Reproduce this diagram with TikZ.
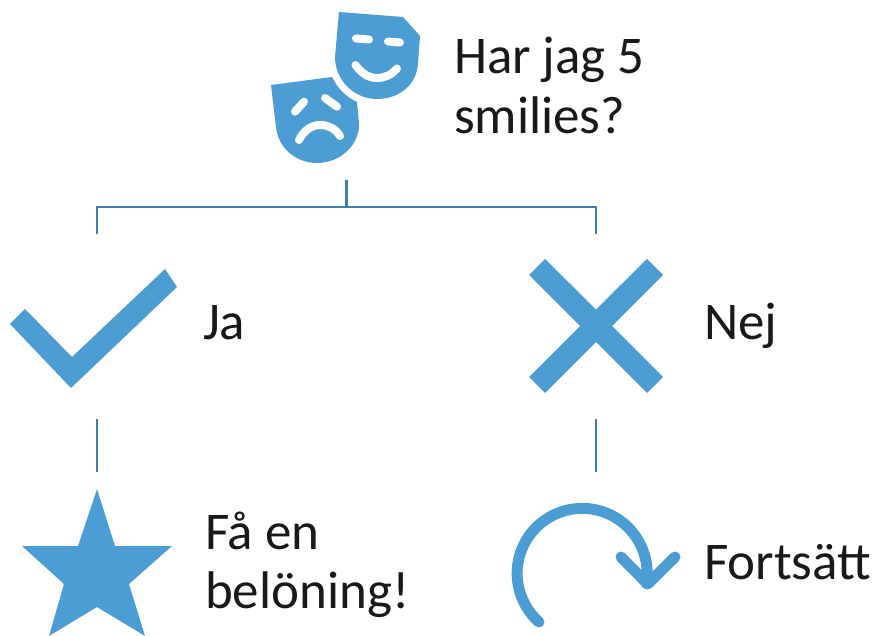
\documentclass[tikz,border=0pt]{standalone}
\usepackage{fontspec}
\setmainfont{Carlito}
\definecolor{iconblue}{HTML}{4D9DD5}
\definecolor{linkblue}{HTML}{3F7FAE}
\tikzset{
  x=1pt,y=-1pt,
  icon/.style={fill=iconblue,draw=none},
  stroke/.style={draw=iconblue,line width=11pt,line cap=round,line join=round},
  facemark/.style={draw=white,line width=8pt,line cap=round},
  link/.style={draw=linkblue,line width=2.8pt},
  label/.style={anchor=base west,inner sep=0pt,outer sep=0pt,text=black!90,font=\fontsize{53}{60}\selectfont},
}
\begin{document}
\begin{tikzpicture}
\useasboundingbox (0,0) rectangle (873,636);
% masks
\fill[icon] (339,12) -- (403,17) -- (420,36) -- (418,63) .. controls (417,84) and (400,99) .. (377,99) .. controls (354,99) and (335,80) .. (335,57) -- cycle;
\draw[facemark] (356,38.5) -- (369,39.5);
\draw[facemark] (388,41.5) -- (400,42.5);
\draw[facemark] (355.5,65) .. controls (362,74) and (369,78) .. (377,78) .. controls (385,78) and (391,75) .. (397,68.5);
\fill[icon] (271,85) -- (332,77) .. controls (338,89) and (346,97) .. (357,102) -- (359,123) .. controls (360,145) and (340,163) .. (317,163) .. controls (296,163) and (278,148) .. (276,127) -- cycle;
\draw[facemark] (295,111.7) -- (304,101.7);
\draw[facemark] (325,98) -- (337,106.7);
\draw[facemark] (299,140) .. controls (304,130) and (312,125) .. (320,125) .. controls (328,125) and (335,128) .. (340,136);
% check
\fill[icon] (10,324) -- (25,309) -- (72,357) -- (165,269) -- (177,287) -- (71,388) -- cycle;
% cross
\fill[icon] (529,275) -- (545,259) -- (596,309.5) -- (647,259) -- (663,275) -- (612,326) -- (663,377) -- (647,393) -- (596,342) -- (545,393) -- (529,377) -- (580,326) -- cycle;
% star
\fill[icon] (97,489) -- (115,546) -- (172,546) -- (129,584) -- (145,636) -- (97,607) -- (49,636) -- (64,584) -- (22,546) -- (78,546) -- cycle;
% circular arrow
\draw[stroke] (539,622) arc[start angle=131.6,end angle=369,radius=65];
\draw[stroke] (621,557) -- (647.7,584) -- (675,557);
% connectors
\coordinate (stemtop) at (346.5,180);
\coordinate (junction) at (346.5,207);
\coordinate (yesend) at (97,234);
\coordinate (noend) at (596,234);
\coordinate (yestop) at (97,419);
\coordinate (yesbot) at (97,472);
\coordinate (notop) at (596,419);
\coordinate (nobot) at (596,472);
\draw[link] (stemtop) -- (junction);
\draw[link] (yesend) |- (junction) -| (noend);
\draw[link] (yestop) -- (yesbot);
\draw[link] (notop) -- (nobot);
% labels
\node[label] (q1) at (454,74) {Har jag 5};
\node[label] (q2) at (454,134) {smilies?};
\node[label] (ja) at (203,340) {Ja};
\node[label] (nej) at (704,340) {Nej};
\node[label] (fa) at (205,549) {Få en};
\node[label] (bel) at (205,608) {belöning!};
\node[label] (fort) at (704,579) {Fortsätt};
\end{tikzpicture}
\end{document}
